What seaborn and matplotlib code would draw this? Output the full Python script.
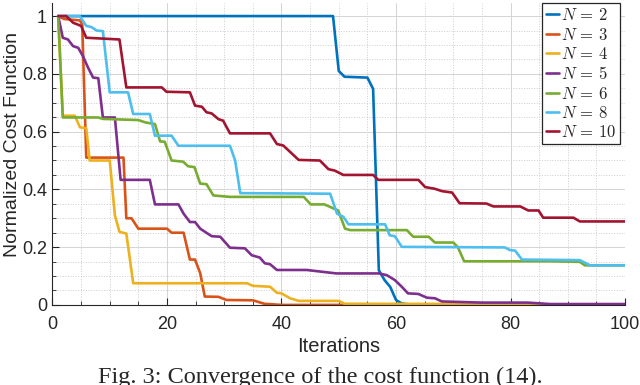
import numpy as np
import pandas as pd
import matplotlib
matplotlib.use("Agg")
import matplotlib.pyplot as plt
from matplotlib.ticker import MultipleLocator
import seaborn as sns

# vertices (iteration, normalized cost)
n2_x = [1, 49, 50, 51, 55, 56, 57, 58, 59, 60, 61, 63, 100]
n2_y = [1.0, 1.0, 0.81, 0.79, 0.787, 0.748, 0.12, 0.086, 0.062, 0.017, 0.005, 0.0, 0.0]

n3_x = [1, 2, 4.8, 5.2, 5.9, 12.4, 12.9, 13.8, 15, 20, 20.8, 22.9, 24, 24.9, 25.8,
        26.6, 29, 30.4, 35, 37, 40, 100]
n3_y = [1.0, 0.99, 0.985, 0.97, 0.51, 0.51, 0.30, 0.30, 0.264, 0.264, 0.25, 0.25,
        0.157, 0.157, 0.11, 0.029, 0.028, 0.017, 0.016, 0.004, 0.0, 0.0]

n4_x = [1, 1.8, 3.9, 4.8, 5.9, 6.5, 10, 10.9, 11.7, 12.9, 14.1, 34, 35, 38, 39.2,
        40, 41.5, 43, 50, 51, 85, 87, 100]
n4_y = [1.0, 0.655, 0.655, 0.615, 0.612, 0.50, 0.50, 0.31, 0.253, 0.247, 0.075,
        0.075, 0.066, 0.063, 0.042, 0.04, 0.023, 0.014, 0.014, 0.004, 0.003, 0.0, 0.0]

n5_x = [1, 1.8, 2.7, 3.6, 4.5, 5.3, 6.2, 7.1, 8, 8.8, 10.9, 11.9, 17, 17.9, 22,
        22.9, 24, 24.9, 25.8, 27.8, 29.3, 31, 33.6, 34.8, 36.2, 37.1, 38, 39.2,
        44.4, 49.6, 57, 58.4, 59.8, 61, 62.1, 63.9, 65.4, 66.8, 68, 75, 83, 87, 100]
n5_y = [1.0, 0.925, 0.919, 0.896, 0.89, 0.862, 0.822, 0.787, 0.785, 0.649, 0.649,
        0.433, 0.433, 0.348, 0.348, 0.316, 0.287, 0.287, 0.264, 0.238, 0.236, 0.198,
        0.196, 0.172, 0.164, 0.144, 0.141, 0.121, 0.121, 0.109, 0.109, 0.103, 0.086,
        0.063, 0.04, 0.038, 0.025, 0.023, 0.012, 0.008, 0.008, 0.003, 0.003]

n6_x = [1, 1.8, 8, 8.8, 15, 16.2, 17.9, 18.8, 19.6, 20.8, 22.8, 23.7, 24.8, 25.8,
        26.9, 28.1, 31, 43.9, 45.1, 47.5, 49.9, 51.1, 52, 61.9, 63, 65.7, 66.8, 70,
        70.8, 71.9, 86.9, 92.1, 93, 100]
n6_y = [1.0, 0.649, 0.649, 0.644, 0.64, 0.632, 0.626, 0.566, 0.565, 0.50, 0.496,
        0.48, 0.477, 0.42, 0.418, 0.379, 0.374, 0.374, 0.348, 0.348, 0.327, 0.264,
        0.259, 0.259, 0.236, 0.236, 0.216, 0.216, 0.20, 0.151, 0.151, 0.149, 0.137, 0.137]

n8_x = [1, 4.75, 5.9, 6.8, 7.7, 8.8, 10, 13.2, 14.1, 17, 17.9, 20.8, 22, 31, 31.9,
        32.8, 48.5, 49.7, 50.8, 51.7, 58.1, 58.9, 59.8, 61, 79, 79.9, 80.8, 82, 92.1,
        93.9, 100]
n8_y = [1.0, 1.0, 0.966, 0.962, 0.95, 0.948, 0.736, 0.736, 0.661, 0.661, 0.586,
        0.586, 0.551, 0.551, 0.50, 0.387, 0.385, 0.316, 0.305, 0.279, 0.279, 0.241,
        0.238, 0.201, 0.199, 0.19, 0.188, 0.157, 0.155, 0.137, 0.137]

n10_x = [1, 2.4, 3.6, 4.5, 5, 5.9, 11.7, 12.9, 19.1, 19.9, 24, 24.9, 26.1, 26.9,
         27.8, 29, 29.8, 31, 38, 39.2, 40.3, 43, 46.7, 48.2, 49.3, 50.8, 56, 56.9,
         63.9, 65.1, 66.8, 68, 69.8, 71.1, 75.8, 77, 81.7, 83.1, 84.9, 85.7, 91, 92.1, 100]
n10_y = [1.0, 1.0, 0.977, 0.97, 0.966, 0.925, 0.919, 0.753, 0.753, 0.738, 0.736,
         0.69, 0.686, 0.667, 0.663, 0.643, 0.638, 0.594, 0.594, 0.557, 0.552, 0.502,
         0.50, 0.47, 0.465, 0.45, 0.45, 0.433, 0.433, 0.408, 0.402, 0.394, 0.389,
         0.352, 0.351, 0.341, 0.341, 0.327, 0.327, 0.302, 0.302, 0.289, 0.289]

N_VALUES = [2, 3, 4, 5, 6, 8, 10]
SERIES   = [(n2_x, n2_y), (n3_x, n3_y), (n4_x, n4_y), (n5_x, n5_y),
            (n6_x, n6_y), (n8_x, n8_y), (n10_x, n10_y)]
COLORS   = ["#0072BD", "#D95319", "#EDB120", "#7E2F8E", "#77AC30", "#4DBEEE", "#A2142F"]

labels = [rf"$N\,=\,{n}$" for n in N_VALUES]
frames = []
for lab, (xs, ys) in zip(labels, SERIES):
    frames.append(pd.DataFrame({"it": xs, "cost": ys, "N": lab}))
df = pd.concat(frames, ignore_index=True)

sns.set_style("ticks", {"xtick.direction": "in", "ytick.direction": "in"})
plt.rcParams["font.family"] = ["Liberation Sans", "DejaVu Sans"]
plt.rcParams["mathtext.fontset"] = "cm"

fig = plt.figure(figsize=(6.4, 3.85), dpi=100)
ax = fig.add_axes([0.082, 0.208, 0.8946, 0.784])

sns.lineplot(data=df, x="it", y="cost", hue="N", hue_order=labels,
             palette=dict(zip(labels, COLORS)), estimator=None, sort=False,
             linewidth=1.9, ax=ax)

ax.set_xlim(0, 100)
ax.set_ylim(0, 1.045)
ax.set_xticks([0, 20, 40, 60, 80, 100])
ax.set_yticks([0, 0.2, 0.4, 0.6, 0.8, 1.0])
ax.set_yticklabels(["0", "0.2", "0.4", "0.6", "0.8", "1"])
ax.xaxis.set_minor_locator(MultipleLocator(5))
ax.yaxis.set_minor_locator(MultipleLocator(0.05))
ax.grid(which="major", color="#d4d4d4", linewidth=0.7)
ax.grid(which="minor", color="#cccccc", linestyle=":", linewidth=0.7)
ax.set_axisbelow(True)

for side in ["top", "right"]:
    ax.spines[side].set_visible(False)
for side in ["left", "bottom"]:
    ax.spines[side].set_color("#262626")
    ax.spines[side].set_linewidth(0.8)
ax.tick_params(which="major", direction="in", length=5, width=0.8,
               colors="#262626", labelsize=13)
ax.tick_params(axis="x", which="major", pad=8)
ax.tick_params(axis="y", which="major", pad=4)
ax.tick_params(which="minor", direction="in", length=3, width=0.6, colors="#262626")

ax.set_xlabel("Iterations", fontsize=14.5, color="#262626", labelpad=3)
ax.set_ylabel("Normalized Cost Function", fontsize=14, color="#262626")
ax.yaxis.set_label_coords(-0.055, 0.533)

leg = ax.legend(loc="upper right", bbox_to_anchor=(0.992, 1.0), fontsize=12,
                handlelength=0.8, handletextpad=0.12, labelspacing=0.2,
                borderpad=0.25, borderaxespad=0.0, fancybox=False, framealpha=1)
leg.get_frame().set_edgecolor("#262626")
leg.get_frame().set_linewidth(0.9)

fig.text(0.5, 0.006, "Fig. 3: Convergence of the cost function (14).",
         family="Liberation Serif", fontsize=17.5, ha="center", va="baseline")

fig.savefig("out.png", dpi=100)
